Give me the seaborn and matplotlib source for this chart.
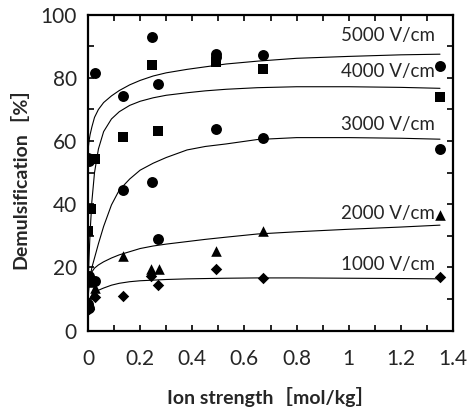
import numpy as np
import pandas as pd
import seaborn as sns
import matplotlib.pyplot as plt
from matplotlib.ticker import MultipleLocator, FuncFormatter

# measured points, grouped by marker shape
circle_x = [0, 0.004, 0.027, 0.135, 0.135, 0.245, 0.245, 0.27, 0.27, 0.49, 0.49, 0.49,
            0.67, 0.67, 1.35, 1.35, 0.005, 0.025, 0, 0.002]
circle_y = [54.7, 53.8, 81.5, 74.4, 44.4, 93.0, 47.0, 78.0, 28.9, 87.6, 86.5, 63.7,
            87.3, 60.9, 83.7, 57.5, 17.3, 15.6, 8.5, 7.3]

square_x = [0, 0.012, 0.027, 0.135, 0.245, 0.27, 0.49, 0.67, 1.35]
square_y = [31.6, 38.5, 54.4, 61.2, 84.0, 63.3, 85.0, 82.8, 73.9]

triangle_x = [0.005, 0.022, 0.027, 0.135, 0.242, 0.272, 0.49, 0.67, 1.35]
triangle_y = [15.5, 11.8, 13.4, 23.6, 19.5, 19.5, 25.3, 31.5, 36.6]

diamond_x = [0.003, 0.025, 0.135, 0.243, 0.27, 0.49, 0.67, 1.35]
diamond_y = [7.0, 10.8, 11.0, 17.3, 14.5, 19.4, 16.6, 16.9]

# fitted curves
curve_x = [0, 0.004, 0.008, 0.015, 0.025, 0.04, 0.06, 0.09, 0.12, 0.16, 0.2,
           0.25, 0.3, 0.38, 0.45, 0.53, 0.65, 0.8, 1.0, 1.2, 1.35]
fit_5000 = [57, 60, 62, 64.5, 67.5, 70.0, 72.2, 74.3, 76.0, 77.8, 79.2,
            80.6, 81.6, 82.7, 83.5, 84.4, 85.3, 86.2, 86.8, 87.3, 87.5]
fit_4000 = [14, 23, 31, 41, 50, 57.5, 63, 67.0, 69.3, 71.3, 72.6,
            73.7, 74.5, 75.3, 75.9, 76.4, 76.9, 77.2, 77.2, 77.0, 76.7]
fit_3000 = [10, 14, 17, 20, 23, 27.5, 33, 39.8, 44.5, 48, 50.8,
            53.0, 54.8, 57.2, 58.3, 59.1, 60.5, 61.1, 61.1, 60.9, 60.6]
fit_2000 = [13, 16, 17.5, 18.6, 19.8, 20.8, 21.8, 23.0, 24.0, 25.0, 26.0,
            26.8, 27.4, 28.2, 28.9, 29.6, 30.6, 31.3, 32.1, 32.8, 33.4]
fit_1000 = [7.5, 9, 10.2, 11.2, 12.0, 12.8, 13.5, 14.4, 15.0, 15.5, 15.8,
            16.0, 16.2, 16.4, 16.5, 16.6, 16.7, 16.7, 16.6, 16.5, 16.4]

fields = ["5000 V/cm", "4000 V/cm", "3000 V/cm", "2000 V/cm", "1000 V/cm"]
label_y = [93.4, 82.0, 65.4, 37.2, 21.0]

sns.set_style("ticks")
plt.rcParams["font.family"] = ["Lato", "Noto Sans CJK JP", "DejaVu Sans"]

fig = plt.figure(figsize=(4.68, 4.07), dpi=100)
ax = fig.add_axes([0.188, 0.1875, 0.780, 0.7764])

fits = [fit_5000, fit_4000, fit_3000, fit_2000, fit_1000]
curves = pd.DataFrame({
    "x": curve_x * len(fits),
    "y": sum(fits, []),
    "field": np.repeat(fields, len(curve_x)),
})
sns.lineplot(data=curves, x="x", y="y", units="field", estimator=None,
             color="black", linewidth=0.8, ax=ax)

for xs, ys, mk, sz in [(circle_x, circle_y, "o", 62),
                       (square_x, square_y, "s", 52),
                       (triangle_x, triangle_y, "^", 58),
                       (diamond_x, diamond_y, "D", 34)]:
    sns.scatterplot(x=xs, y=ys, marker=mk, s=sz, color="black",
                    edgecolor="black", linewidth=0, ax=ax, zorder=3)

for name, ly in zip(fields, label_y):
    ax.text(1.33, ly, name, ha="right", va="center", fontsize=13.5)

ax.set_xlim(0, 1.4)
ax.set_ylim(0, 100)
ax.xaxis.set_major_locator(MultipleLocator(0.2))
ax.xaxis.set_minor_locator(MultipleLocator(0.1))
ax.yaxis.set_major_locator(MultipleLocator(20))
ax.yaxis.set_minor_locator(MultipleLocator(10))
ax.xaxis.set_major_formatter(FuncFormatter(lambda v, p: f"{round(v, 1):g}"))
ax.tick_params(which="both", direction="in", top=True, right=True,
               length=4, width=1.2, labelsize=15, color="black")
ax.tick_params(axis="x", pad=13)
ax.tick_params(axis="y", pad=8)
for sp in ax.spines.values():
    sp.set_linewidth(1.6)
    sp.set_color("black")

ax.set_xlabel("Ion strength［mol/kg］", fontsize=14, fontweight="bold", labelpad=13)
ax.set_ylabel("Demulsification［%］", fontsize=14, fontweight="bold", labelpad=8)

fig.savefig("out.png", dpi=100)
